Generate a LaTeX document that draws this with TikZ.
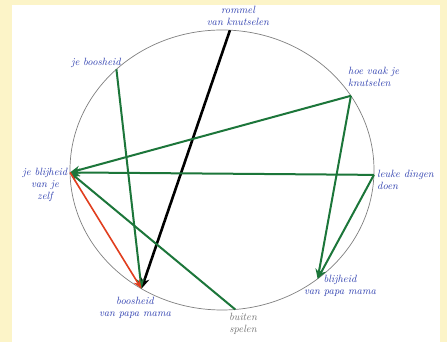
\documentclass[tikz,border=0pt]{standalone}
\usepackage{tikz}
\usetikzlibrary{positioning,arrows.meta}

\definecolor{pengreen}{RGB}{28,118,58}
\definecolor{penblue}{RGB}{45,62,175}
\definecolor{penred}{RGB}{225,62,30}
\definecolor{paper}{RGB}{252,244,200}

\begin{document}
\begin{tikzpicture}[
  x=1pt, y=1pt,
  font=\itshape\fontsize{10.5}{12}\selectfont,
  lbl/.style={text=penblue, inner sep=1pt, align=center},
  pencil/.style={lbl, text=black!55},
  grn/.style={-{Stealth[length=10pt,width=8pt]}, draw=pengreen, line width=2pt},
  blk/.style={-{Stealth[length=11pt,width=9pt]}, draw=black, line width=2.6pt},
  red/.style={-{Stealth[length=9pt,width=7pt]}, draw=penred, line width=1.6pt}
]
% paper
\fill[paper] (0,0) rectangle (447,342);
\fill[white] (12,0) rectangle (440,337);
\useasboundingbox (0,0) rectangle (447,342);

% the circle
\coordinate (c) at (222,172);
\draw[black!50, line width=0.7pt] (c) ellipse (152 and 140);

% points on the circle
\path (c) ++(87:152 and 140)  coordinate (rommel);
\path (c) ++(134:152 and 140) coordinate (jeboos);
\path (c) ++(32:152 and 140)  coordinate (hoevaak);
\path (c) ++(181:152 and 140) coordinate (blijself);
\path (c) ++(-2:152 and 140)  coordinate (leuke);
\path (c) ++(238:152 and 140) coordinate (boospapa);
\path (c) ++(309:152 and 140) coordinate (blijpapa);
\path (c) ++(275:152 and 140) coordinate (buiten);

% labels
\node[lbl] (t-rommel)   at (238,326) {rommel\\van knutselen};
\node[lbl] (t-jeboos)   at (96,279)  {je boosheid};
\node[lbl, align=left, anchor=west] (t-hoevaak) at (347,265) {hoe vaak je\\knutselen};
\node[lbl] (t-blijself) at (45,157)  {je blijheid\\van je\\zelf};
\node[lbl, align=left, anchor=west] (t-leuke) at (376,162) {leuke dingen\\doen};
\node[lbl] (t-boospapa) at (135,34)  {boosheid\\van papa mama};
\node[lbl] (t-blijpapa) at (340,56)  {blijheid\\van papa mama};
\node[pencil] (t-buiten) at (243,18) {buiten\\spelen};

% connectors
\draw[blk] (rommel) -- (boospapa);
\draw[grn] (jeboos) -- (boospapa);
\draw[grn] (hoevaak) -- (blijself);
\draw[grn] (hoevaak) -- (blijpapa);
\draw[grn] (leuke) -- (blijself);
\draw[grn] (leuke) -- (blijpapa);
\draw[grn] (buiten) -- (blijself);
\draw[red] (blijself) -- (boospapa);
\end{tikzpicture}
\end{document}
